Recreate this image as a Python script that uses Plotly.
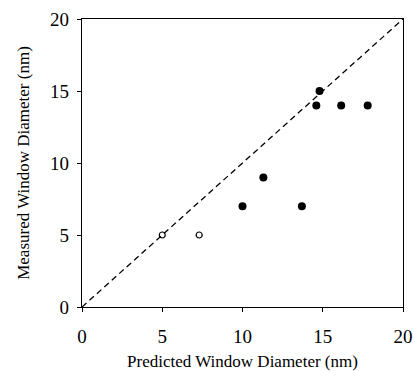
import plotly.graph_objects as go

open_x = [5.0, 7.3]
open_y = [5.0, 5.0]
filled_x = [10.0, 11.3, 13.7, 14.6, 14.8, 16.15, 17.8]
filled_y = [7.0, 9.0, 7.0, 14.0, 15.0, 14.0, 14.0]
line_x = [0, 20]
line_y = [0, 20]
ticks = [0, 5, 10, 15, 20]

fig = go.Figure()
fig.add_trace(go.Scatter(x=line_x, y=line_y, mode="lines",
                         line=dict(color="black", width=1.3, dash="6px,4px"),
                         showlegend=False, hoverinfo="skip"))
fig.add_trace(go.Scatter(x=open_x, y=open_y, mode="markers",
                         marker=dict(symbol="circle-open", size=6, color="black",
                                     line=dict(width=1.2, color="black")),
                         showlegend=False))
fig.add_trace(go.Scatter(x=filled_x, y=filled_y, mode="markers",
                         marker=dict(symbol="circle", size=8, color="black"),
                         showlegend=False))

fam = "Liberation Serif, Times New Roman, serif"
tickfont = dict(family=fam, size=19, color="black")
titlefont = dict(family=fam, size=17, color="black")
axis_common = dict(range=[0, 20], tickvals=ticks, showgrid=False, zeroline=False,
                   showline=True, linecolor="black", linewidth=1.2, mirror=True,
                   ticks="outside", ticklen=4, tickcolor="black", tickwidth=1,
                   tickfont=tickfont, automargin=False)
fig.update_layout(
    width=413, height=371,
    margin=dict(l=82, r=10, t=19, b=64),
    paper_bgcolor="white", plot_bgcolor="white",
    font=tickfont,
    xaxis=dict(**axis_common, ticklabelstandoff=8,
               title=dict(text="Predicted Window Diameter (nm)",
                          font=titlefont, standoff=10)),
    yaxis=dict(**axis_common, ticklabelstandoff=4,
               title=dict(text="Measured Window Diameter (nm)",
                          font=titlefont, standoff=16)),
)
fig.write_html("out.html", config={"displayModeBar": False},
               post_script="document.body.style.margin='0';document.body.style.overflow='hidden';")
